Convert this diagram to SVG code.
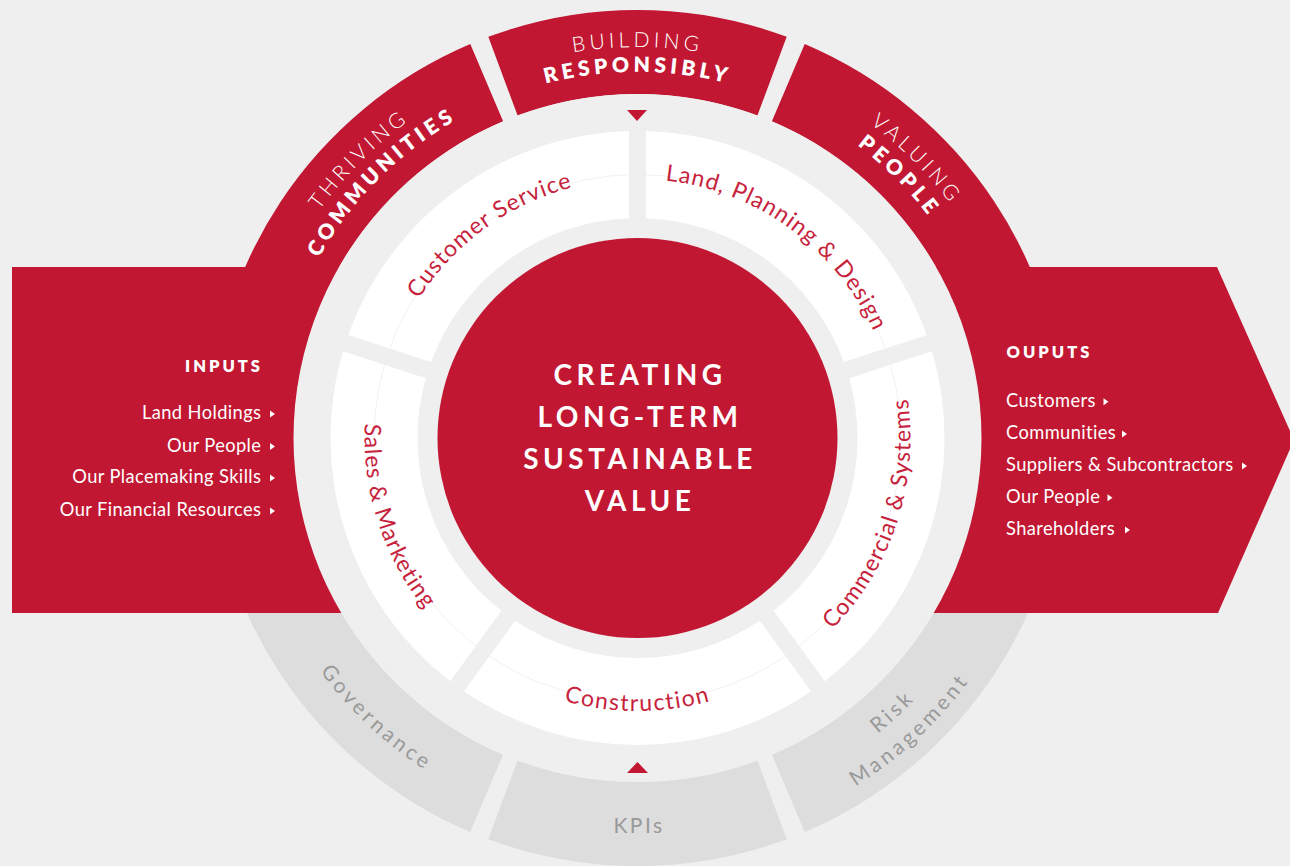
<svg xmlns="http://www.w3.org/2000/svg" width="1290" height="866" viewBox="0 0 1290 866">
  <defs>
    <style>
      text { font-family: Lato, "Open Sans", "Liberation Sans", sans-serif; }
      .red { fill: #c21732; }
      .grey { fill: #dddddd; }
      .white { fill: #ffffff; }
      .bg { fill: #efefef; }
      .rl { font-weight: 300; font-size: 21px; letter-spacing: 4px; fill: #ffffff; }
      .rb { font-weight: 800; font-size: 21px; letter-spacing: 4.2px; fill: #ffffff; }
      .seg { font-size: 23px; letter-spacing: 1.1px; fill: #c7223b; }
      .gt { font-size: 21px; letter-spacing: 3.6px; fill: #999999; }
      .hub { font-weight: 700; font-size: 28px; letter-spacing: 4.5px; fill: #ffffff; }
      .hd { font-weight: 800; font-size: 16.5px; letter-spacing: 3px; fill: #ffffff; }
      .it { font-size: 18.3px; letter-spacing: 0.4px; fill: #ffffff; }
      .tip { fill: #ffffff; }
      .mark { fill: #c21732; }
    </style>
    <!-- baselines for the outer ring labels (clockwise = letters face outward) -->
    <path id="p-build" d="M298.89,242.5 A391,391 0 0 1 976.11,242.5"/>
    <path id="p-resp" d="M320.53,255 A366,366 0 0 1 954.47,255"/>
    <path id="p-thriv" d="M259.82,539.2 A391,391 0 0 1 738.7,60.32"/>
    <path id="p-comm" d="M283.97,532.73 A366,366 0 0 1 732.23,84.47"/>
    <path id="p-val" d="M536.3,60.32 A391,391 0 0 1 1015.18,539.2"/>
    <path id="p-peop" d="M542.77,84.47 A366,366 0 0 1 991.03,532.73"/>
    <!-- counter-clockwise baselines (letters face the centre) -->
    <path id="p-gov" d="M253.6,349.37 A394,394 0 0 0 752.69,814.78"/>
    <path id="p-risk" d="M526.11,802.35 A381,381 0 0 0 1008.74,352.29"/>
    <path id="p-mgmt" d="M517.34,831.04 A411,411 0 0 0 1037.97,345.55"/>
    <!-- inner ring label baselines -->
    <path id="p-land" d="M457.58,251.69 A259,259 0 0 1 870.29,551.54"/>
    <path id="p-cust" d="M404.71,551.54 A259,259 0 0 1 817.42,251.69"/>
    <path id="p-commsys" d="M599.51,708.34 A273,273 0 0 0 765.67,196.95"/>
    <path id="p-constr" d="M368.65,485.41 A273,273 0 0 0 906.35,485.41"/>
    <path id="p-sales" d="M509.33,196.95 A273,273 0 0 0 675.49,708.34"/>
    <!-- inner ring segment shapes -->
    <path id="s-land" d="M646,131.12 A307,307 0 0 1 926.74,335.08 L843.94,361.98 A220,220 0 0 0 646,218.16 Z"/>
    <path id="s-commsys" d="M931.99,351.26 A307,307 0 0 1 824.76,681.28 L773.6,610.85 A220,220 0 0 0 849.2,378.16 Z"/>
    <path id="s-constr" d="M811,691.26 A307,307 0 0 1 464,691.26 L515.16,620.84 A220,220 0 0 0 759.84,620.84 Z"/>
    <path id="s-sales" d="M450.24,681.28 A307,307 0 0 1 343.01,351.26 L425.8,378.16 A220,220 0 0 0 501.4,610.85 Z"/>
    <path id="s-cust" d="M348.26,335.08 A307,307 0 0 1 629,131.12 L629,218.16 A220,220 0 0 0 431.06,361.98 Z"/>
    <clipPath id="inner-ring">
      <use href="#s-land"/>
      <use href="#s-commsys"/>
      <use href="#s-constr"/>
      <use href="#s-sales"/>
      <use href="#s-cust"/>
    </clipPath>
  </defs>

  <rect class="bg" x="0" y="0" width="1290" height="866"/>

  <!-- outer ring -->
  <g id="seg-thriving">
    <path class="red" d="M209.5,438 A428,428 0 0 1 470.27,44.03 L503.09,121.35 A344,344 0 0 0 293.5,438 Z"/>
    <text class="rl" text-anchor="middle"><textPath href="#p-thriv" startOffset="50%">THRIVING</textPath></text>
    <text class="rb" text-anchor="middle"><textPath href="#p-comm" startOffset="50%">COMMUNITIES</textPath></text>
  </g>
  <g id="seg-building">
    <path class="red" d="M488.31,36.84 A428,428 0 0 1 786.69,36.84 L757.41,115.58 A344,344 0 0 0 517.59,115.58 Z"/>
    <text class="rl" text-anchor="middle"><textPath href="#p-build" startOffset="50%">BUILDING</textPath></text>
    <text class="rb" text-anchor="middle"><textPath href="#p-resp" startOffset="50%">RESPONSIBLY</textPath></text>
  </g>
  <g id="seg-valuing">
    <path class="red" d="M804.73,44.03 A428,428 0 0 1 1065.5,438 L981.5,438 A344,344 0 0 0 771.91,121.35 Z"/>
    <text class="rl" text-anchor="middle"><textPath href="#p-val" startOffset="50%">VALUING</textPath></text>
    <text class="rb" text-anchor="middle"><textPath href="#p-peop" startOffset="50%">PEOPLE</textPath></text>
  </g>
  <g id="seg-governance">
    <path class="grey" d="M209.5,438 L293.5,438 A344,344 0 0 0 503.09,754.65 L470.27,831.97 A428,428 0 0 1 209.5,438 Z"/>
    <text class="gt" text-anchor="middle"><textPath href="#p-gov" startOffset="50%">Governance</textPath></text>
  </g>
  <g id="seg-kpis">
    <path class="grey" d="M488.31,839.16 L517.59,760.42 A344,344 0 0 0 757.41,760.42 L786.69,839.16 A428,428 0 0 1 488.31,839.16 Z"/>
    <text class="gt" x="639" y="833" text-anchor="middle" style="letter-spacing:2.5px">KPIs</text>
  </g>
  <g id="seg-risk">
    <path class="grey" d="M1065.5,438 A428,428 0 0 1 804.73,831.97 L771.91,754.65 A344,344 0 0 0 981.5,438 Z"/>
    <text class="gt" text-anchor="middle"><textPath href="#p-risk" startOffset="50%">Risk</textPath></text>
    <text class="gt" text-anchor="middle"><textPath href="#p-mgmt" startOffset="50%">Management</textPath></text>
  </g>

  <!-- inputs panel -->
  <g id="inputs">
    <rect class="red" x="12" y="267" width="600" height="346"/>
    <text class="hd" x="263" y="372" text-anchor="end">INPUTS</text>
    <text class="it" x="261.4" y="419" text-anchor="end">Land Holdings</text>
    <text class="it" x="261.4" y="451.5" text-anchor="end">Our People</text>
    <text class="it" x="261.4" y="483" text-anchor="end">Our Placemaking Skills</text>
    <text class="it" x="261.4" y="516" text-anchor="end">Our Financial Resources</text>
    <polygon class="tip" points="270,410.5 275,414 270,417.5"/>
    <polygon class="tip" points="270,443 275,446.5 270,450"/>
    <polygon class="tip" points="270,474.5 275,478 270,481.5"/>
    <polygon class="tip" points="270,507.5 275,511 270,514.5"/>
  </g>

  <!-- outputs arrow -->
  <g id="outputs">
    <polygon class="red" points="640,267 1217,267 1294,440 1218,613 640,613"/>
    <text class="hd" x="1006.5" y="358">OUPUTS</text>
    <text class="it" x="1006" y="406.7">Customers</text>
    <text class="it" x="1006" y="439">Communities</text>
    <text class="it" x="1006" y="471">Suppliers &amp; Subcontractors</text>
    <text class="it" x="1006" y="502.7">Our People</text>
    <text class="it" x="1006" y="535">Shareholders</text>
    <polygon class="tip" points="1103.5,398.2 1108.5,401.7 1103.5,405.2"/>
    <polygon class="tip" points="1122,430.5 1127,434 1122,437.5"/>
    <polygon class="tip" points="1242,462.5 1247,466 1242,469.5"/>
    <polygon class="tip" points="1107.5,494.2 1112.5,497.7 1107.5,501.2"/>
    <polygon class="tip" points="1125,526.5 1130,530 1125,533.5"/>
  </g>

  <!-- clear band inside the outer ring -->
  <circle class="bg" cx="637.5" cy="438" r="344"/>

  <!-- inner ring -->
  <g id="seg-land">
    <use href="#s-land" class="white"/>
  </g>
  <g id="seg-commercial">
    <use href="#s-commsys" class="white"/>
  </g>
  <g id="seg-construction">
    <use href="#s-constr" class="white"/>
  </g>
  <g id="seg-sales">
    <use href="#s-sales" class="white"/>
  </g>
  <g id="seg-customer">
    <use href="#s-cust" class="white"/>
  </g>
  <circle cx="637.5" cy="438" r="263.5" fill="none" stroke="#f1f1f1" stroke-width="1" clip-path="url(#inner-ring)"/>
  <g id="inner-labels">
    <text class="seg" text-anchor="middle"><textPath href="#p-land" startOffset="50%">Land, Planning &amp; Design</textPath></text>
    <text class="seg" text-anchor="middle"><textPath href="#p-commsys" startOffset="50%">Commercial &amp; Systems</textPath></text>
    <text class="seg" text-anchor="middle" style="letter-spacing:1.5px"><textPath href="#p-constr" startOffset="50%">Construction</textPath></text>
    <text class="seg" text-anchor="middle"><textPath href="#p-sales" startOffset="50%">Sales &amp; Marketing</textPath></text>
    <text class="seg" text-anchor="middle"><textPath href="#p-cust" startOffset="50%">Customer Service</textPath></text>
  </g>

  <!-- hub -->
  <g id="hub">
    <circle class="red" cx="637.5" cy="438" r="200"/>
    <text class="hub" x="640" y="385" text-anchor="middle">CREATING</text>
    <text class="hub" x="640" y="427" text-anchor="middle">LONG-TERM</text>
    <text class="hub" x="640" y="469" text-anchor="middle">SUSTAINABLE</text>
    <text class="hub" x="640" y="511" text-anchor="middle">VALUE</text>
  </g>

  <!-- flow markers between the rings -->
  <g id="connectors">
    <polygon class="mark" points="627,110 647,110 637,121"/>
    <polygon class="mark" points="627,773 648,773 637.5,762"/>
  </g>
</svg>
